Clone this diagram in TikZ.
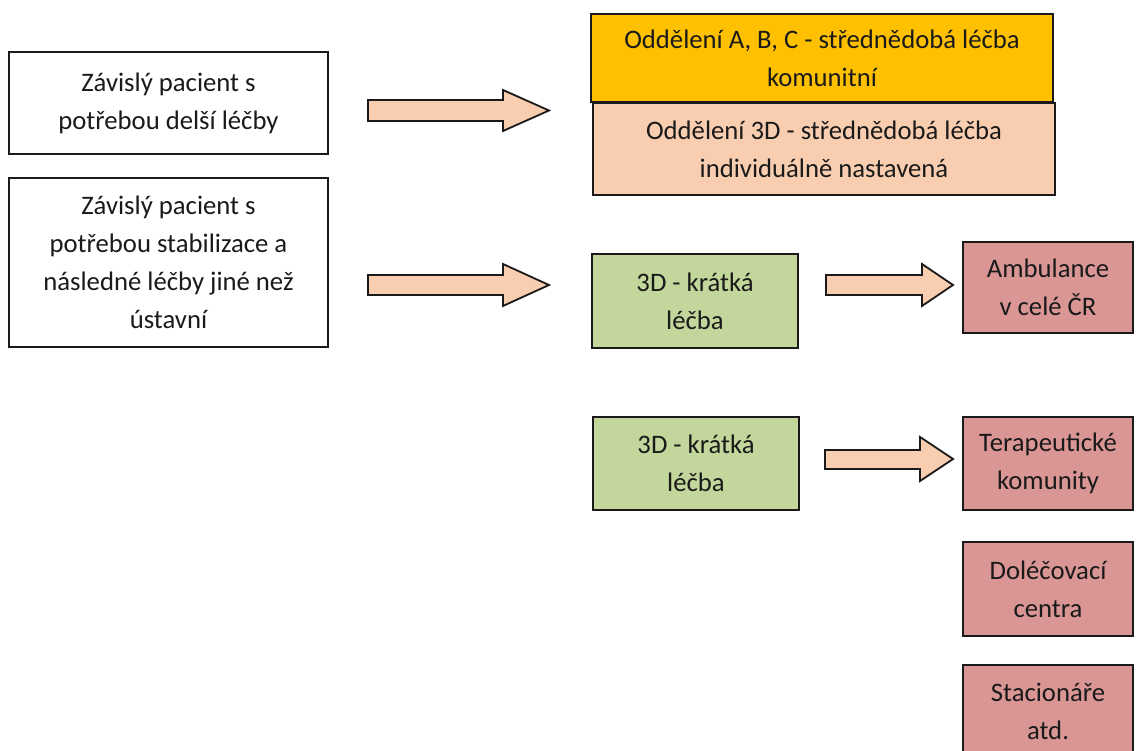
\documentclass[tikz,border=0pt]{standalone}
\usepackage{fontspec}
\setmainfont{Carlito}
\definecolor{gold}{HTML}{FFC000}
\definecolor{peach}{HTML}{F9CEB0}
\definecolor{olive}{HTML}{C3D69B}
\definecolor{rose}{HTML}{D99694}
\definecolor{ink}{HTML}{1A1A1A}
\tikzset{
  box/.style={draw=ink, line width=1.5pt, rectangle, align=center, inner sep=0pt,
    font=\fontsize{26.7}{38}\selectfont, text=ink},
  blockarrow/.style={draw=ink, fill=peach, line width=1.8pt, line join=miter},
}
\begin{document}
\begin{tikzpicture}[x=1pt, y=-1pt]
\clip (0,0) rectangle (1141,751);
\fill[white] (0,0) rectangle (1141,751);

% left boxes
\node[box, minimum width=319pt, minimum height=102pt] (dlouha) at (168.5,103) {Závislý pacient s\\potřebou delší léčby};
\node[box, minimum width=319pt, minimum height=169pt] (stab) at (168.5,262.5) {Závislý pacient s\\potřebou stabilizace a\\následné léčby jiné než\\ústavní};

% top right boxes
\node[box, fill=peach, minimum width=462pt, minimum height=92pt] (odd3d) at (824,149) {Oddělení 3D - střednědobá léčba\\individuálně nastavená};
\node[box, fill=gold, minimum width=462pt, minimum height=88pt] (oddabc) at (822,58) {Oddělení A, B, C - střednědobá léčba\\komunitní};

% green boxes
\node[box, fill=olive, minimum width=206pt, minimum height=94pt] (kratka1) at (695,301) {3D - krátká\\léčba};
\node[box, fill=olive, minimum width=206pt, minimum height=93pt] (kratka2) at (696,463.5) {3D - krátká\\léčba};

% pink boxes
\node[box, fill=rose, minimum width=170pt, minimum height=91pt] (amb) at (1048,287.5) {Ambulance\\v celé ČR};
\node[box, fill=rose, minimum width=170pt, minimum height=93pt] (tera) at (1048,463.5) {Terapeutické\\komunity};
\node[box, fill=rose, minimum width=170pt, minimum height=94pt] (dolec) at (1048,589) {Doléčovací\\centra};
\node[box, fill=rose, minimum width=170pt, minimum height=93pt] (stac) at (1048,711.5) {Stacionáře\\atd.};

% block arrows
\draw[blockarrow] (368,100) -- (503,100) -- (503,90) -- (549,110.5) -- (503,131) -- (503,121) -- (368,121) -- cycle;
\draw[blockarrow] (368,275) -- (503,275) -- (503,264) -- (549,285) -- (503,306) -- (503,295) -- (368,295) -- cycle;
\draw[blockarrow] (826,275) -- (922,275) -- (922,264) -- (953,285) -- (922,306) -- (922,295) -- (826,295) -- cycle;
\draw[blockarrow] (825,450) -- (920,450) -- (920,437) -- (953,459) -- (920,481) -- (920,469) -- (825,469) -- cycle;
\end{tikzpicture}
\end{document}
